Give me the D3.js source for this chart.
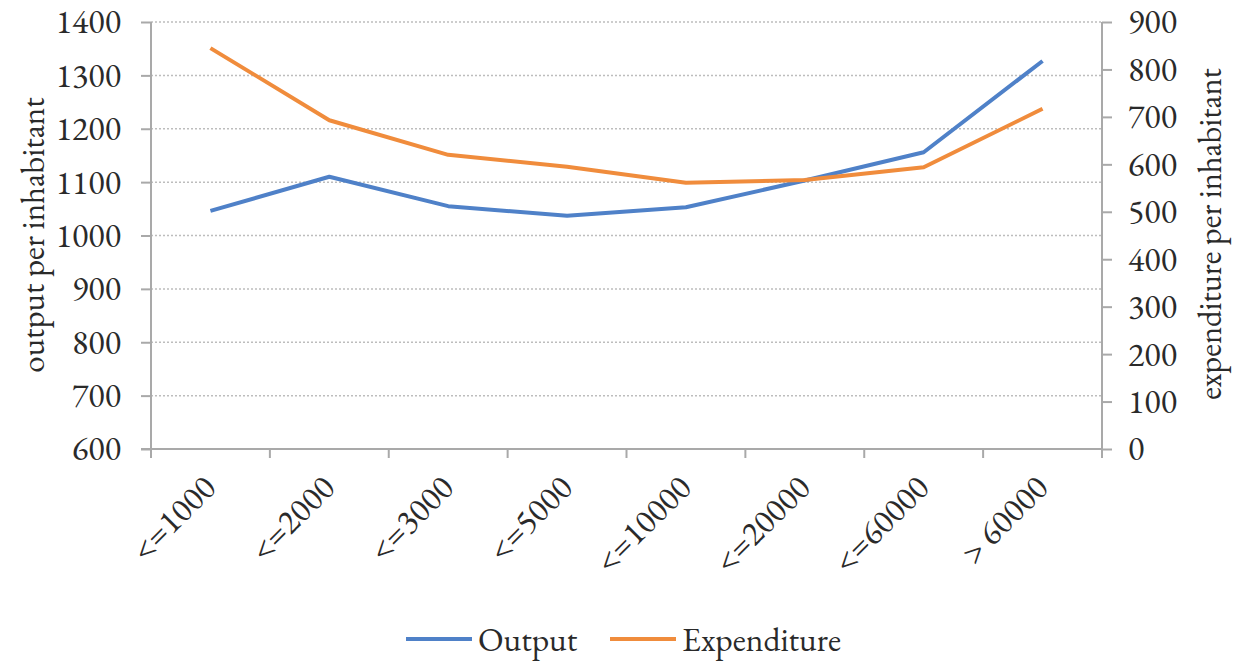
<!DOCTYPE html>
<html><head><meta charset="utf-8">
<script src="https://cdn.jsdelivr.net/npm/d3@7"></script>
<style>body{margin:0;background:#fff}svg{display:block}</style>
</head><body>
<svg id="c" width="1233" height="662"></svg>
<script>
const categories = ["<=1000","<=2000","<=3000","<=5000","<=10000","<=20000","<=60000","> 60000"];
const outputValues = [1046, 1110, 1055, 1037, 1053, 1103, 1156, 1327];
const expenditureValues = [845, 693, 620, 595, 561, 567, 594, 717];
const leftTicks = [600,700,800,900,1000,1100,1200,1300,1400];
const rightTicks = [0,100,200,300,400,500,600,700,800,900];
const seriesNames = ["Output","Expenditure"];
const colors = ["#4f81c8","#f08c3c"];

const svg = d3.select("#c");
const L = 151, R = 1102, T = 22, B = 449;
const textColor = "#2a2a2a";
const axisColor = "#a9a9a9";
const FONT = '"EB Garamond"';
function styleText(sel, size) {
  return sel.style("font-family", FONT).style("font-size", size + "px")
    .style("font-variant-numeric", "lining-nums").attr("fill", textColor);
}

const x = d3.scaleBand().domain(categories).range([L, R]);
const yL = d3.scaleLinear().domain([600, 1400]).range([B, T]);
const yR = d3.scaleLinear().domain([0, 900]).range([B, T]);

// gridlines
svg.append("g").selectAll("line").data(leftTicks.filter(d => d > 600)).join("line")
  .attr("x1", L).attr("x2", R).attr("y1", d => yL(d)).attr("y2", d => yL(d))
  .attr("stroke", "#bdbdbd").attr("stroke-width", 1.5).attr("stroke-dasharray", "2,2");

// left axis
const gl = svg.append("g").attr("transform", `translate(${L},0)`)
  .call(d3.axisLeft(yL).tickValues(leftTicks).tickSize(10).tickPadding(20).tickFormat(d3.format("d")));
// right axis
const gr = svg.append("g").attr("transform", `translate(${R},0)`)
  .call(d3.axisRight(yR).tickValues(rightTicks).tickSize(10).tickPadding(16).tickFormat(d3.format("d")));
// bottom axis (ticks at band edges)
const gb = svg.append("g").attr("transform", `translate(0,${B})`)
  .call(d3.axisBottom(x).tickSize(0).tickFormat(""));
const tickPos = categories.map(c => x(c)).concat([R]);
svg.append("g").selectAll("line").data(tickPos).join("line")
  .attr("x1", d => d).attr("x2", d => d).attr("y1", B).attr("y2", B + 9)
  .attr("stroke", axisColor).attr("stroke-width", 2);
svg.append("line").attr("x1", L - 10).attr("x2", R).attr("y1", B).attr("y2", B)
  .attr("stroke", axisColor).attr("stroke-width", 2);

[gl, gr, gb].forEach(g => {
  g.select(".domain").attr("stroke", axisColor).attr("stroke-width", 2);
  g.selectAll(".tick line").attr("stroke", axisColor).attr("stroke-width", 2);
  styleText(g.selectAll(".tick text"), 34);
});
gb.select(".domain").remove();
gl.select(".domain").attr("d", `M0,${T}V${B}`);
gr.select(".domain").attr("d", `M0,${T}V${B}`);

// x labels rotated
styleText(svg.append("g").selectAll("text").data(categories).join("text")
  .attr("transform", d => `translate(${x(d) + x.bandwidth() / 2 - 1},${B + 32}) rotate(-45)`)
  .attr("text-anchor", "end").attr("dy", "0.35em")
  .text(d => d), 34);

// axis titles
styleText(svg.append("text").attr("transform", `translate(44,235) rotate(-90)`)
  .attr("text-anchor", "middle")
  .text("output per inhabitant"), 33);
styleText(svg.append("text").attr("transform", `translate(1221,234) rotate(-90)`)
  .attr("text-anchor", "middle")
  .text("expenditure per inhabitant"), 32.5);

// lines
const cx = d => x(d) + x.bandwidth() / 2;
const lineL = d3.line().x((d, i) => cx(categories[i])).y(d => yL(d));
const lineR = d3.line().x((d, i) => cx(categories[i])).y(d => yR(d));
svg.append("path").datum(outputValues).attr("d", lineL)
  .attr("fill", "none").attr("stroke", colors[0]).attr("stroke-width", 4).attr("stroke-linejoin", "round");
svg.append("path").datum(expenditureValues).attr("d", lineR)
  .attr("fill", "none").attr("stroke", colors[1]).attr("stroke-width", 4).attr("stroke-linejoin", "round");

// legend
const legX = [406, 610];
const leg = svg.append("g").selectAll("g").data(seriesNames).join("g")
  .attr("transform", (d, i) => `translate(${legX[i]},639)`);
leg.append("line").attr("x1", 0).attr("x2", 66).attr("y1", 0).attr("y2", 0)
  .attr("stroke", (d, i) => colors[i]).attr("stroke-width", 4);
styleText(leg.append("text").attr("x", 72).attr("y", 12).text(d => d), 33.5);
</script>
</body></html>
